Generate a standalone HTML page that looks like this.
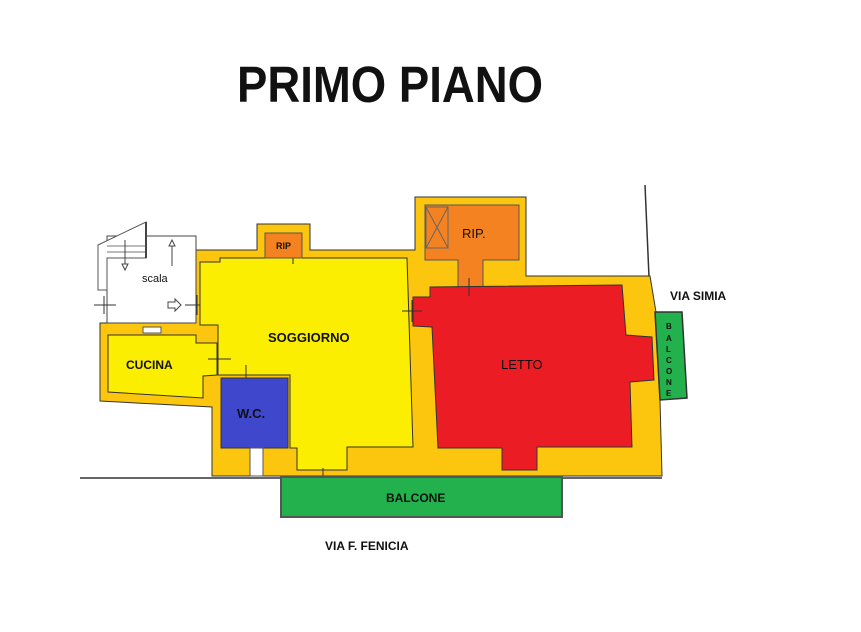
<!DOCTYPE html>
<html><head><meta charset="utf-8"><style>
html,body{margin:0;padding:0;background:#fff;}
svg{display:block;}
text{font-family:"Liberation Sans",sans-serif;font-weight:bold;fill:#111;}
</style></head><body>
<svg width="861" height="632" viewBox="0 0 861 632" xmlns="http://www.w3.org/2000/svg">
<rect width="861" height="632" fill="#fff"/>
<text x="237" y="102" font-size="51" textLength="306" lengthAdjust="spacingAndGlyphs" fill="#000">PRIMO PIANO</text>

<!-- ground lines -->
<line x1="80" y1="478" x2="282" y2="478" stroke="#333" stroke-width="1.5"/>
<line x1="562" y1="478" x2="662" y2="478" stroke="#333" stroke-width="1.5"/>
<line x1="645" y1="185" x2="650" y2="300" stroke="#333" stroke-width="1.5"/>

<!-- orange wall mass -->
<polygon points="100,323 196,323 196,250 257,250 257,224 310,224 310,250 415,250 415,197 526,197 526,276 650,276 656,312 660,400 662,476 212,476 212,407 100,401" fill="#FDC60E" stroke="#333" stroke-width="1"/>

<!-- scala -->
<polygon points="107,236 196,236 196,323 107,323" fill="#fff" stroke="#444" stroke-width="1"/>
<polygon points="98,245 146,222 146,258 107,258 107,290 98,290" fill="#fff" stroke="#555" stroke-width="1"/>
<line x1="107" y1="246" x2="146" y2="246" stroke="#777"/>
<line x1="107" y1="252" x2="146" y2="252" stroke="#777"/>
<line x1="146" y1="222" x2="146" y2="258" stroke="#444" stroke-width="2"/>
<line x1="125" y1="240" x2="125" y2="266" stroke="#444"/>
<polygon points="122,264 128,264 125,270" fill="#fff" stroke="#444"/>
<line x1="172" y1="243" x2="172" y2="266" stroke="#444"/>
<polygon points="169,246 175,246 172,240" fill="#fff" stroke="#444"/>
<text x="142" y="282" font-size="11" font-weight="normal" fill="#444" style="font-weight:normal">scala</text>
<polygon points="168,302 175,302 175,299 181,305 175,311 175,308 168,308" fill="#fff" stroke="#444"/>
<line x1="94" y1="305" x2="116" y2="305" stroke="#333"/>
<line x1="104" y1="296" x2="104" y2="314" stroke="#333"/>
<line x1="185" y1="305" x2="209" y2="305" stroke="#333"/>
<line x1="197" y1="295" x2="197" y2="315" stroke="#333"/>
<rect x="143" y="327" width="18" height="6" fill="#fff" stroke="#555"/>

<!-- cucina -->
<polygon points="108,335 196,335 196,343 217,343 217,375 203,376 203,398 108,392" fill="#FCEE00" stroke="#333" stroke-width="1"/>
<text x="126" y="369" font-size="12">CUCINA</text>

<!-- soggiorno -->
<polygon points="200,262 220,262 220,258 407,258 413,447 347,447 347,470 297,470 297,448 290,448 290,375 218,375 218,325 200,325" fill="#FCEE00" stroke="#333" stroke-width="1"/>
<text x="268" y="342" font-size="13">SOGGIORNO</text>
<line x1="208" y1="359" x2="231" y2="359" stroke="#333"/>
<line x1="218" y1="350" x2="218" y2="368" stroke="#333"/>
<line x1="246" y1="365" x2="246" y2="388" stroke="#333"/>
<line x1="293" y1="252" x2="293" y2="264" stroke="#333"/>
<line x1="323" y1="468" x2="323" y2="487" stroke="#333"/>

<!-- WC -->
<rect x="221" y="378" width="67" height="70" fill="#3F48CC" stroke="#333"/>
<text x="237" y="418" font-size="13">W.C.</text>
<rect x="250" y="448" width="13" height="28" fill="#fff" stroke="#555"/>

<!-- small RIP -->
<rect x="265" y="233" width="37" height="25" fill="#F58220" stroke="#555"/>
<text x="276" y="249" font-size="9">RIP</text>

<!-- big RIP -->
<polygon points="425,205 519,205 519,260 483,260 483,287 458,287 458,260 425,260" fill="#F58220" stroke="#555"/>
<rect x="426" y="207" width="22" height="41" fill="none" stroke="#666"/>
<line x1="426" y1="207" x2="448" y2="248" stroke="#666"/>
<line x1="448" y1="207" x2="426" y2="248" stroke="#666"/>
<text x="462" y="238" font-size="13" font-weight="normal" style="font-weight:normal">RIP.</text>

<!-- letto -->
<polygon points="413,297 430,297 430,287 622,285 626,335 652,337 654,380 630,382 632,447 537,447 537,470 502,470 502,448 438,448 432,327 413,326" fill="#EC1C24" stroke="#333" stroke-width="1"/>
<text x="501" y="369" font-size="13" font-weight="normal" style="font-weight:normal">LETTO</text>
<line x1="402" y1="311" x2="422" y2="311" stroke="#333"/>
<line x1="412" y1="300" x2="412" y2="322" stroke="#333"/>
<line x1="469" y1="278" x2="469" y2="296" stroke="#333"/>

<!-- balcone right -->
<polygon points="655,312 682,312 687,398 660,400" fill="#22B14C" stroke="#333" stroke-width="1.5"/>
<g font-size="8">
<text x="666" y="329">B</text><text x="666" y="341">A</text><text x="666" y="352">L</text>
<text x="666" y="363">C</text><text x="666" y="374">O</text><text x="666" y="385">N</text><text x="666" y="396">E</text>
</g>
<text x="670" y="300" font-size="12">VIA SIMIA</text>

<!-- balcone bottom -->
<rect x="281" y="477" width="281" height="40" fill="#22B14C" stroke="#555" stroke-width="2"/>
<text x="386" y="502" font-size="12">BALCONE</text>
<text x="325" y="550" font-size="12">VIA F. FENICIA</text>
</svg>
</body></html>
